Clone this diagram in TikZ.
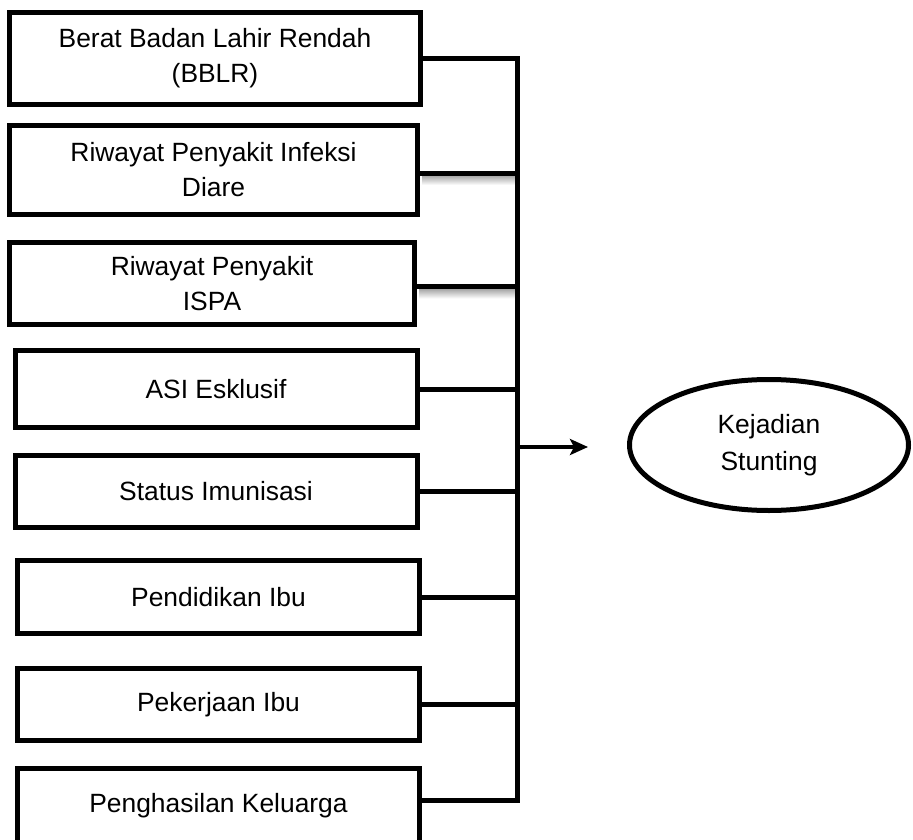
\documentclass[tikz,border=0pt]{standalone}
\usepackage{fontspec}
\setmainfont{Liberation Sans}
\usetikzlibrary{arrows.meta,shapes.geometric,calc}
\begin{document}
\begin{tikzpicture}[x=1pt,y=-1pt,
  box/.style={draw, line width=5pt, rectangle, align=center, inner sep=0pt,
    font=\fontsize{26.4}{35}\selectfont},
  conn/.style={line width=5pt},
  shade/.style={top color=black!35, bottom color=white, draw=none},
]
\useasboundingbox (0,0) rectangle (913,840);
\clip (0,0) rectangle (913,840);

\node[box, minimum width=411pt, minimum height=92pt] (b1) at (215,58.5) {Berat Badan Lahir Rendah\\(BBLR)};
\node[box, minimum width=408pt, minimum height=89pt] (b2) at (213.5,170) {Riwayat Penyakit Infeksi\\Diare};
\node[box, minimum width=405pt, minimum height=82pt] (b3) at (212,283.5) {Riwayat Penyakit\\ISPA};
\node[box, minimum width=402pt, minimum height=77pt] (b4) at (216,389) {ASI Esklusif};
\node[box, minimum width=402pt, minimum height=72pt] (b5) at (216,491.5) {Status Imunisasi};
\node[box, minimum width=402pt, minimum height=73pt] (b6) at (218.5,597) {Pendidikan Ibu};
\node[box, minimum width=402pt, minimum height=72pt] (b7) at (218.5,704.5) {Pekerjaan Ibu};
\node[box, minimum width=402pt, minimum height=76pt] (b8) at (218.5,806) {Penghasilan Keluarga};

\node[draw, ellipse, line width=5pt, minimum width=279pt, minimum height=131pt,
  inner sep=0pt, align=center, font=\fontsize{26.4}{37}\selectfont] (out) at (769,445) {Kejadian\\Stunting};

\coordinate (bus) at (517,58.5);
\coordinate (b2c) at ($(b2.east)+(0,3)$);
\coordinate (b3c) at ($(b3.east)+(0,3)$);
\coordinate (b8c) at ($(b8.east)+(0,-6)$);
\coordinate (arrowstart) at (517,447);
\coordinate (arrowtip) at (588,447);

% soft shadows under two connectors
\fill[shade] ($(b2c)+(2,2.5)$) rectangle ($(b2c -| bus)+(-2,12)$);
\fill[shade] ($(b3c)+(2,2.5)$) rectangle ($(b3c -| bus)+(-2,12)$);

% bus
\draw[conn] (b1.east) -- (b1.east -| bus) -- (b8c -| bus) -- (b8c);
\draw[conn] (b2c) -- (b2c -| bus);
\draw[conn] (b3c) -- (b3c -| bus);
\foreach \b in {b4,b5,b6,b7}{
  \draw[conn] (\b.east) -- (\b.east -| bus);
}

\draw[line width=4pt, -{Stealth[length=18pt,width=16pt,inset=4pt]}] (arrowstart) -- (arrowtip);
\end{tikzpicture}
\end{document}
